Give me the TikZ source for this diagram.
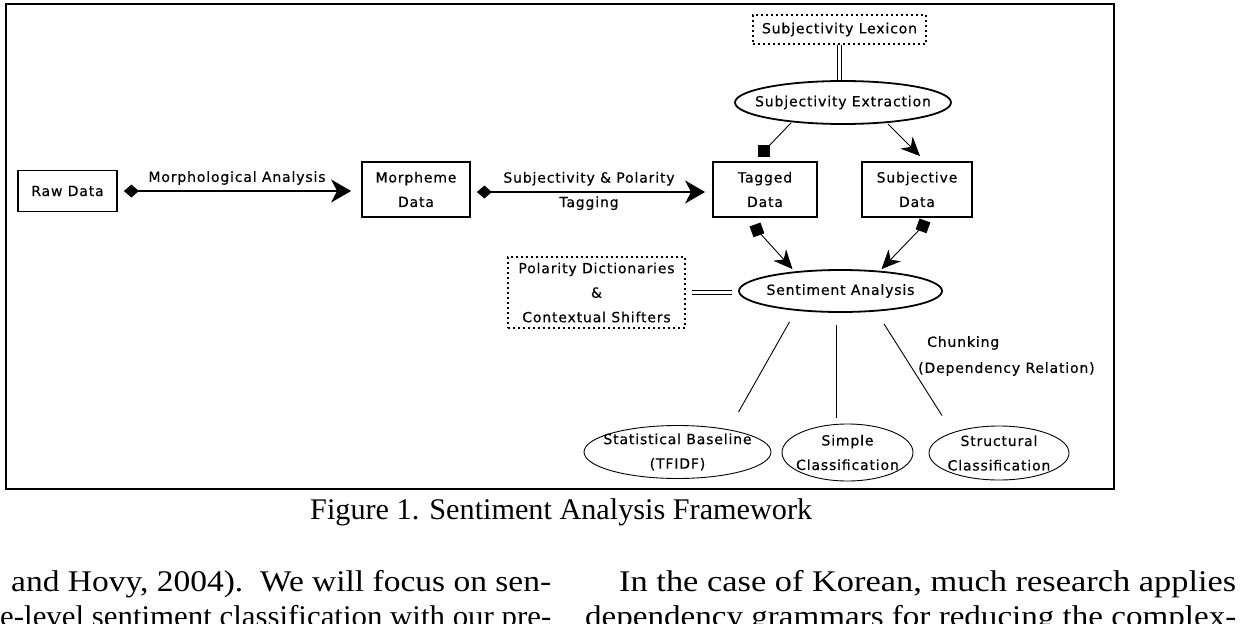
\documentclass[tikz,border=0pt]{standalone}
\usepackage{fontspec}
\usepackage{graphicx}
\setmainfont{Liberation Serif}
\newfontfamily\df[LetterSpace=6,FakeBold=0.4]{DejaVu Sans}
\usetikzlibrary{arrows.meta,shapes.geometric,calc}
\newcommand{\dfs}{\df\fontsize{14}{24.5}\selectfont}
\newcommand{\bodyf}{\fontsize{30}{35}\selectfont}
\begin{document}
\begin{tikzpicture}[x=1pt,y=-1pt,
  box/.style={draw, line width=1.8pt, inner sep=0pt, align=center, font=\dfs},
  dotbox/.style={draw, line width=2pt, dash pattern=on 2pt off 3pt, inner sep=0pt, align=center, font=\dfs},
  ellthick/.style={ellipse, draw, line width=1.8pt, inner sep=0pt},
  ellthin/.style={ellipse, draw, line width=0.9pt, inner sep=0pt},
  lbl/.style={font=\dfs, align=center, inner sep=0pt},
  mainarr/.style={line width=1.4pt, {Diamond[length=15pt,width=13pt]}-{Stealth[length=20pt,width=23pt,inset=6pt]}},
  thinl/.style={line width=0.9pt},
  sqm/.style={fill=black, draw=none, minimum size=11.5pt, inner sep=0pt, outer sep=0pt},
  sttip/.style={thinl, -{Stealth[length=19pt,width=17pt,inset=6pt]}},
  dbl/.style={double, line width=0.9pt, double distance=2.5pt},
  bodytxt/.style={anchor=base west, inner sep=0pt}
]
\useasboundingbox (0,0) rectangle (1251,624);
\fill[white] (0,0) rectangle (1251,624);
\draw[line width=1.6pt] (6,4) rectangle (1114,489);

% boxes
\node[box, minimum width=99pt, minimum height=41pt] (raw) at (67.5,191) {Raw Data};
\node[box, minimum width=108pt, minimum height=55pt] (morph) at (416,189.5) {Morpheme\\Data};
\node[box, minimum width=104pt, minimum height=55pt] (tagged) at (765,189.5) {Tagged\\Data};
\node[box, minimum width=110pt, minimum height=55pt] (subj) at (917,189.5) {Subjective\\Data};
\node[dotbox, minimum width=173pt, minimum height=29pt] (lex) at (839.5,29.5) {Subjectivity Lexicon};
\node[dotbox, minimum width=177pt, minimum height=71pt] (pol) at (596.5,292.5) {Polarity Dictionaries\\\&\\Contextual Shifters};

% ellipses
\node[ellthick, minimum width=216pt, minimum height=43pt, label={[lbl]center:Subjectivity Extraction}] (subjx) at (843,102.5) {};
\node[ellthick, minimum width=203pt, minimum height=42pt, label={[lbl]center:Sentiment Analysis}] (sent) at (840.5,291) {};
\node[ellthin, minimum width=187pt, minimum height=53pt, label={[lbl]center:{Statistical Baseline\\(TFIDF)}}] (stat) at (677.5,452) {};
\node[ellthin, minimum width=131pt, minimum height=57pt, label={[lbl]center:{Simple\\Classification}}] (simp) at (847.5,452.5) {};
\node[ellthin, minimum width=140pt, minimum height=54pt, label={[lbl]center:{Structural\\Classification}}] (struct) at (999,453) {};

% main arrows
\draw[mainarr, shorten <=6pt, shorten >=10pt] (raw.east) -- (raw.east -| morph.west);
\node[lbl] (lma) at (237,178) {Morphological Analysis};
\draw[mainarr, shorten <=6pt, shorten >=7pt] ($(morph.east)+(0,2.5)$) -- ($(morph.east -| tagged.west)+(0,2.5)$);
\node[lbl] (lsp) at (589,191) {Subjectivity \& Polarity\\Tagging};

% lexicon links
\draw[dbl] (lex.south) -- (lex.south |- subjx.north);
\draw[dbl] ($(pol.east)+(6,0)$) -- ($(pol.east -| sent.west)+(-6,0)$);

% extraction arrows
\node[sqm] (sq1) at ($(tagged.north)+(-1,-10)$) {};
\draw[thinl] ($(subjx.south)+(-52,-2)$) -- (sq1.center);
\draw[sttip] ($(subjx.south)+(45,-1)$) -- ($(subj.north)+(3,-5)$);

% to sentiment analysis
\node[sqm, rotate=20] (sq2) at ($(tagged.south)+(-8,12)$) {};
\draw[sttip] (sq2.center) -- ($(sent.north)+(-48,0)$);
\node[sqm, rotate=-20] (sq3) at ($(subj.south)+(6,8)$) {};
\draw[sttip] (sq3.center) -- ($(sent.north)+(41,0)$);

% to classifications
\draw[thinl] ($(sent.south)+(-51,9)$) -- ($(stat.north)+(61,-13)$);
\draw[thinl] ($(sent.south)+(-4.5,12)$) -- ($(simp.north)+(-11.5,-6)$);
\draw[thinl] ($(sent.south)+(43.5,11)$) -- ($(struct.north)+(-57,-10)$);
\node[lbl, anchor=west] (chunk) at (927,343) {Chunking};
\node[lbl, anchor=west] (dep) at (918,369) {(Dependency Relation)};

% caption and body text
\node[bodytxt] (cap) at (310,519) {\resizebox{502pt}{\height}{\bodyf Figure 1. Sentiment Analysis Framework}};
\node[bodytxt] (b1) at (11,591) {\resizebox{540pt}{\height}{\bodyf and Hovy, 2004).~~We will focus on sen-}};
\node[bodytxt] (b2) at (0,626) {\resizebox{551pt}{\height}{\bodyf e-level sentiment classification with our pre-}};
\node[bodytxt] (b3) at (619,591) {\resizebox{617pt}{\height}{\bodyf In the case of Korean, much research applies}};
\node[bodytxt] (b4) at (585,626) {\resizebox{651pt}{\height}{\bodyf dependency grammars for reducing the complex-}};
\end{tikzpicture}
\end{document}
